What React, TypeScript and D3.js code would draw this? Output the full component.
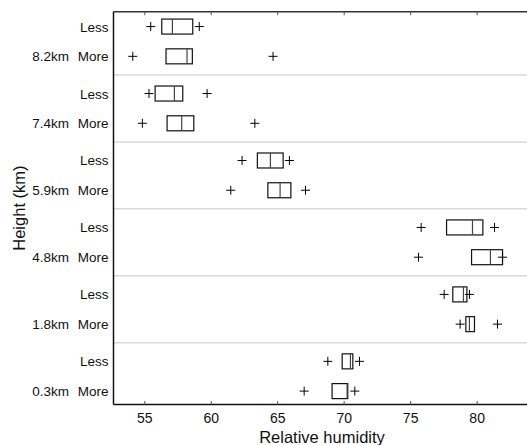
import React from "react";
import * as d3 from "d3";

const heights = ["8.2km", "7.4km", "5.9km", "4.8km", "1.8km", "0.3km"];
const groups = ["Less", "More"];
// rows: for each height, Less then More
const q1 = [56.28, 56.6, 55.78, 56.68, 63.47, 64.26, 77.7, 79.58, 78.17, 79.15, 69.85, 69.09];
const med = [57.08, 58.18, 57.23, 57.78, 64.45, 65.18, 79.65, 81.0, 78.97, 79.42, 70.47, 70.22];
const q3 = [58.61, 58.58, 57.86, 58.69, 65.41, 65.99, 80.43, 81.91, 79.23, 79.8, 70.65, 70.27];
const lowOut = [55.45, 54.1, 55.32, 54.82, 62.32, 61.47, 75.79, 75.59, 77.52, 78.72, 68.77, 66.99];
const highOut = [59.1, 64.65, 59.69, 63.28, 65.88, 67.09, 81.31, 81.91, 79.42, 81.53, 71.15, 70.8];
const xTicks = [55, 60, 65, 70, 75, 80];

const W = 527;
const H = 445;
const left = 113.5;
const right = 527;
const top = 11.7;
const bottom = 404.5;
const FONT = "'Liberation Sans', Arial, Helvetica, sans-serif";

export default function App() {
  const x = d3.scaleLinear().domain([52.65, 83.75]).range([left, right]);
  const y = d3.scaleLinear().domain([-0.5, 12.7]).range([top, bottom]);
  const GROUP_STEP = 2.25;
  const pos = (i: number) => Math.floor(i / 2) * GROUP_STEP + (i % 2);
  const halfH = 7.5;

  const rows = q1.map((_, i) => ({
    i,
    u: pos(i),
    q1: q1[i],
    med: med[i],
    q3: q3[i],
    outs: [lowOut[i], highOut[i]],
  }));

  const plus = (cx: number, cy: number, key: string) => (
    <g key={key} stroke="#000" strokeWidth={1}>
      <line x1={cx - 4.5} x2={cx + 4.5} y1={cy} y2={cy} />
      <line x1={cx} x2={cx} y1={cy - 4.5} y2={cy + 4.5} />
    </g>
  );

  return (
    <svg
      width={W}
      height={H}
      style={{ position: "absolute", left: 0, top: 0, background: "#fff" }}
      fontFamily={FONT}
    >
      <rect x={0} y={0} width={W} height={H} fill="#fff" />
      {/* group separators */}
      {heights.slice(0, -1).map((_, g) => {
        const yy = y(g * GROUP_STEP + 1.625);
        return (
          <line key={"sep" + g} x1={left} x2={right} y1={yy} y2={yy} stroke="#d9d9d9" strokeWidth={1.5} />
        );
      })}
      {/* boxes */}
      {rows.map((r) => {
        const cy = y(r.u);
        return (
          <g key={"box" + r.i}>
            <rect
              x={x(r.q1)}
              y={cy - halfH}
              width={x(r.q3) - x(r.q1)}
              height={halfH * 2}
              fill="none"
              stroke="#111"
              strokeWidth={1.2}
            />
            <line x1={x(r.med)} x2={x(r.med)} y1={cy - halfH} y2={cy + halfH} stroke="#444" strokeWidth={1.2} />
            {r.outs.map((o, k) => plus(x(o), cy, "o" + r.i + "-" + k))}
          </g>
        );
      })}
      {/* axes */}
      <line x1={left} x2={right} y1={top} y2={top} stroke="#333" strokeWidth={1.5} />
      <line x1={left} x2={right} y1={bottom} y2={bottom} stroke="#111" strokeWidth={1.5} />
      <line x1={left} x2={left} y1={top} y2={bottom} stroke="#111" strokeWidth={1.5} />
      {xTicks.map((t) => (
        <g key={"t" + t}>
          <line x1={x(t)} x2={x(t)} y1={top} y2={top + 3.5} stroke="#555" strokeWidth={1} />
          <line x1={x(t)} x2={x(t)} y1={bottom} y2={bottom - 3.5} stroke="#555" strokeWidth={1} />
          <text x={x(t)} y={423} textAnchor="middle" fontSize={14} fill="#111">
            {t}
          </text>
        </g>
      ))}
      {/* row labels */}
      {rows.map((r) => (
        <text key={"rl" + r.i} x={108.5} y={y(r.u) + 5} textAnchor="end" fontSize={13.5} fill="#111">
          {groups[r.i % 2]}
        </text>
      ))}
      {heights.map((h, g) => (
        <text key={"hl" + g} x={69} y={y(g * GROUP_STEP + 1) + 5} textAnchor="end" fontSize={13.5} fill="#111">
          {h}
        </text>
      ))}
      <text x={322} y={443} textAnchor="middle" fontSize={16.5} fill="#111">
        Relative humidity
      </text>
      <text
        transform={`translate(25, ${(top + bottom) / 2}) rotate(-90)`}
        textAnchor="middle"
        fontSize={16.5}
        fill="#111"
      >
        Height (km)
      </text>
    </svg>
  );
}
